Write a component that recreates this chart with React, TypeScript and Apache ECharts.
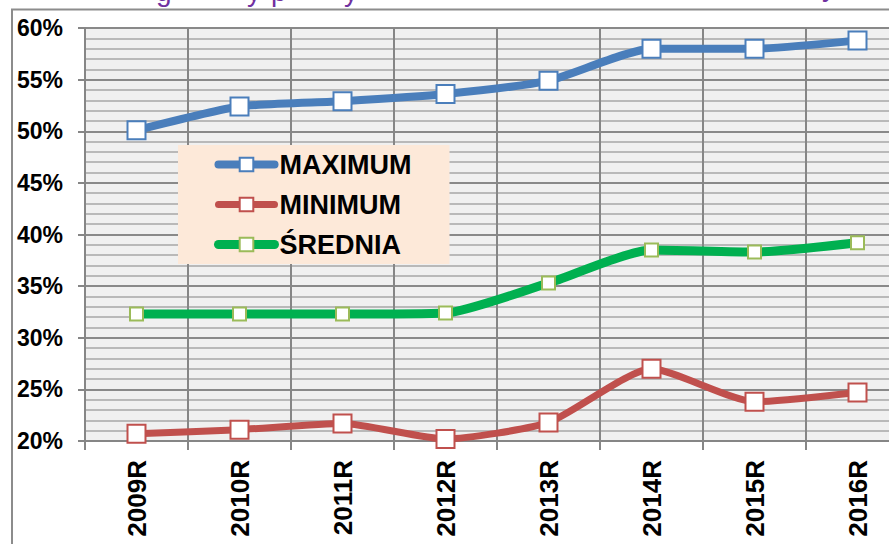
import React, { useEffect, useRef } from "react";
import * as echarts from "echarts";

const categories = ["2009R", "2010R", "2011R", "2012R", "2013R", "2014R", "2015R", "2016R"];
const maximumValues = [50.1, 52.4, 52.9, 53.6, 54.9, 58.0, 58.0, 58.8];
const minimumValues = [20.7, 21.1, 21.7, 20.2, 21.8, 27.0, 23.8, 24.7];
const sredniaValues = [32.3, 32.3, 32.3, 32.4, 35.3, 38.5, 38.3, 39.2];
const seriesNames = ["MAXIMUM", "MINIMUM", "ŚREDNIA"];
const yMin = 20;
const yMax = 60;
const yInterval = 5;
// fragments of the cropped title (only descenders visible)
const titleFragments = ["g", "y", "p", "y", "y"];

export default function App() {
  const ref = useRef<HTMLDivElement>(null);
  useEffect(() => {
    if (!ref.current) return;
    const chart = echarts.init(ref.current, null, { renderer: "svg" });
    const font = "Liberation Sans, Arial, sans-serif";
    const fragX = [156, 247, 271, 344, 822];
    const fragY = [-9, -9, -9, -9, -14];
    const mkSeries = (name: string, data: number[], color: string, width: number, border: string, size: number) => ({
      name,
      type: "line",
      data,
      smooth: 0.2,
      symbol: "rect",
      symbolSize: size,
      showSymbol: true,
      lineStyle: { color, width, cap: "round", join: "round" },
      itemStyle: { color: "#ffffff", borderColor: border, borderWidth: 2 },
      emphasis: { disabled: true },
      z: 3,
    });
    chart.setOption({
      animation: false,
      backgroundColor: "#ffffff",
      grid: {
        left: 85,
        top: 28,
        right: 21,
        bottom: 103,
        show: true,
        backgroundColor: "#f0f0f0",
        borderWidth: 0,
      },
      legend: {
        orient: "vertical",
        left: 178,
        top: 145,
        backgroundColor: "#fde9d9",
        padding: [6, 38, 6, 36],
        itemGap: 13,
        itemWidth: 56,
        itemHeight: 17,
        data: seriesNames,
        lineStyle: { width: "inherit", cap: "round" },
        textStyle: { fontFamily: font, fontWeight: "bold", fontSize: 27, color: "#000000" },
        selectedMode: false,
      },
      xAxis: {
        type: "category",
        data: categories,
        boundaryGap: true,
        axisLine: { show: true, lineStyle: { color: "#868686", width: 2 } },
        axisTick: { show: true, length: 9, lineStyle: { color: "#868686", width: 2 }, interval: 0 },
        splitLine: { show: true, interval: 0, lineStyle: { color: "#868686", width: 2 } },
        axisLabel: {
          rotate: 90,
          margin: 19,
          interval: 0,
          fontFamily: font,
          fontWeight: "bold",
          fontSize: 26,
          color: "#000000",
        },
      },
      yAxis: {
        type: "value",
        min: yMin,
        max: yMax,
        interval: yInterval,
        axisLine: { show: true, lineStyle: { color: "#868686", width: 2 } },
        axisTick: { show: true, length: 7, lineStyle: { color: "#868686", width: 2 } },
        minorTick: { show: false, splitNumber: 5 },
        minorSplitLine: { show: true, lineStyle: { color: "#b9b9b9", width: 2 } },
        splitLine: { show: true, lineStyle: { color: "#898989", width: 2 } },
        axisLabel: {
          formatter: "{value}%",
          margin: 22,
          fontFamily: font,
          fontWeight: "bold",
          fontSize: 23,
          color: "#000000",
        },
      },
      graphic: [
        {
          type: "rect",
          z: -10,
          silent: true,
          shape: { x: 12, y: 9.5, width: 1200, height: 1000 },
          style: { fill: "none", stroke: "#8c8c8c", lineWidth: 2 },
        },
        ...titleFragments.map((t, i) => ({
          type: "text",
          x: fragX[i],
          y: fragY[i],
          silent: true,
          style: {
            text: t,
            fill: "#7030a0",
            font: "28px " + font,
            textAlign: "left",
            textVerticalAlign: "middle",
          },
        })),
      ],
      series: [
        mkSeries(seriesNames[0], maximumValues, "#4a7ebb", 8, "#4a7ebb", 18),
        mkSeries(seriesNames[1], minimumValues, "#c0504d", 7, "#c0504d", 18),
        mkSeries(seriesNames[2], sredniaValues, "#00b050", 9, "#9bbb59", 13),
      ],
    });
    return () => chart.dispose();
  }, []);
  return (
    <div style={{ position: "fixed", left: 0, top: 0, width: 889, height: 544, overflow: "hidden", background: "#fff" }}>
      <div ref={ref} style={{ width: 930, height: 544 }} />
    </div>
  );
}
